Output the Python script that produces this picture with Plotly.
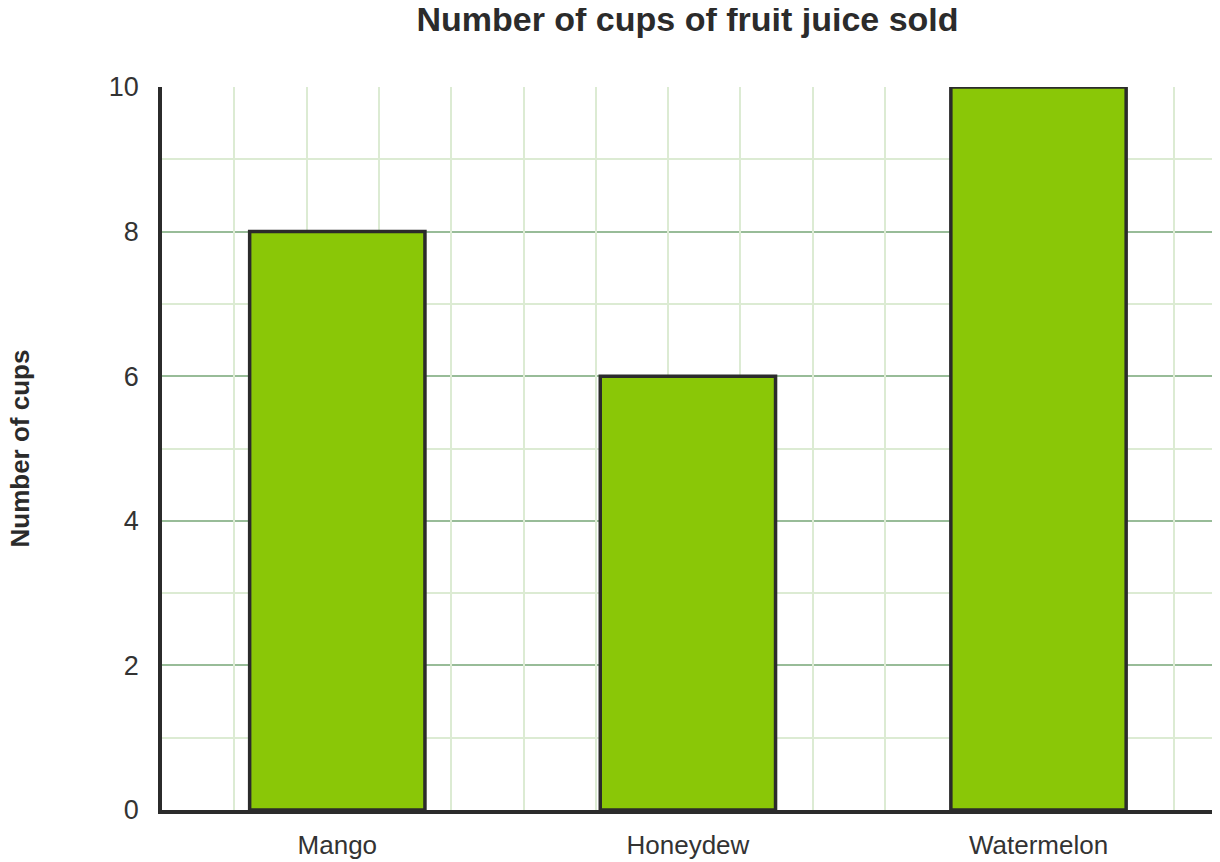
import plotly.graph_objects as go

categories = ["Mango", "Honeydew", "Watermelon"]
cups = [8, 6, 10]
y_ticks = [0, 2, 4, 6, 8, 10]

# page has an 8px body margin, so the figure is sized to end at the window edge
OFF = 8
W, H = 1220 - OFF, 862 - OFF
ML, MR, MT, MB = 162 - OFF, 0, 87 - OFF, 52
plot_w = W - ML - MR
plot_h = H - MT - MB
cat_px = 350.6
unit_px = plot_h / 10.0

FONT = "Liberation Sans, Arial, sans-serif"
DARK = "#2b2b2b"

fig = go.Figure()
fig.add_trace(go.Bar(
    x=categories, y=cups, width=0.5,
    marker=dict(color="#8ac707", line=dict(color=DARK, width=3.5)),
    cliponaxis=False, showlegend=False, hoverinfo="x+y",
))
# helper trace so the square vertical grid axis is drawn
fig.add_trace(go.Scatter(
    x=[0], y=[0], xaxis="x2", mode="markers",
    marker=dict(opacity=0), showlegend=False, hoverinfo="skip",
))

fig.update_layout(
    width=W, height=H,
    margin=dict(l=ML, r=MR, t=MT, b=MB),
    paper_bgcolor="white", plot_bgcolor="white",
    font=dict(family=FONT, color=DARK),
    title=dict(text="<b>Number of cups of fruit juice sold</b>",
               x=(687.5 - OFF) / W, xref="container", xanchor="center",
               y=1 - (19 - OFF) / H, yref="container", yanchor="middle",
               font=dict(size=34, color=DARK, family=FONT)),
    xaxis=dict(
        type="category", range=[-0.5, -0.5 + plot_w / cat_px],
        showgrid=False, showline=True, linecolor=DARK, linewidth=3.5,
        ticks="", ticklabelstandoff=9,
        tickfont=dict(size=26, color="#333333", family=FONT),
        zeroline=False, fixedrange=True,
    ),
    xaxis2=dict(
        overlaying="x", anchor="y", side="bottom",
        range=[0, plot_w / unit_px], dtick=1, tick0=0,
        showgrid=True, gridcolor="#dcebd3", gridwidth=2,
        showticklabels=False, ticks="", showline=False, zeroline=False,
        fixedrange=True,
    ),
    yaxis=dict(
        range=[0, 10], tickvals=y_ticks, ticktext=[str(v) for v in y_ticks],
        showgrid=True, gridcolor="#98bc98", gridwidth=2,
        minor=dict(dtick=1, tick0=0, showgrid=True, gridcolor="#dcebd3", gridwidth=2, ticks=""),
        showline=True, linecolor=DARK, linewidth=3.5,
        ticks="", ticklabelstandoff=14,
        tickfont=dict(size=27, color="#333333", family=FONT),
        zeroline=False, fixedrange=True,
    ),
    bargap=0.5,
)

fig.add_annotation(
    text="<b>Number of cups</b>", textangle=-90,
    xref="paper", yref="paper",
    x=(19 - 162) / plot_w, y=0.5, xanchor="center", yanchor="middle",
    showarrow=False, font=dict(size=26, color=DARK, family=FONT),
)

fig.write_html("out.html")
